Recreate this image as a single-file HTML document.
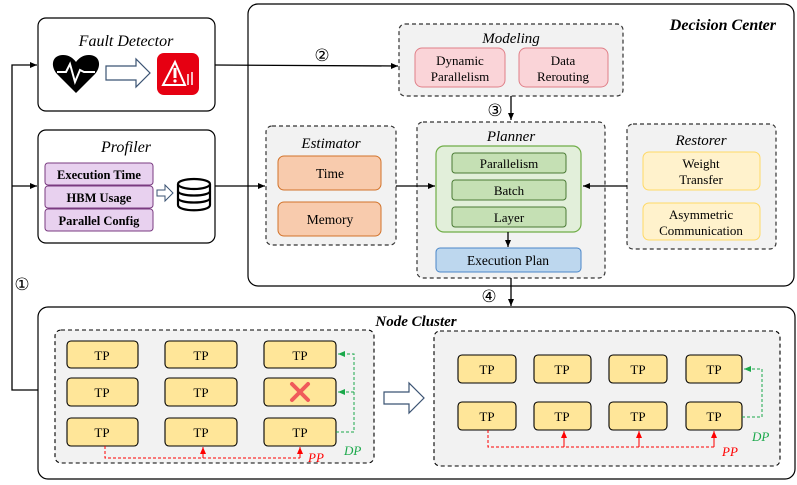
<!DOCTYPE html>
<html><head><meta charset="utf-8"><style>
html,body{margin:0;padding:0;background:#fff;}
svg{display:block;}
svg text{font-family:"Liberation Serif","Noto Serif CJK SC","DejaVu Serif",serif;}
svg text.n{font-family:"DejaVu Sans",sans-serif;font-weight:normal;}
</style></head><body>
<svg width="797" height="485" viewBox="0 0 797 485" xmlns="http://www.w3.org/2000/svg">
<defs>
<marker id="ar" markerWidth="8" markerHeight="8" refX="7" refY="4" orient="auto" markerUnits="userSpaceOnUse"><path d="M0,1 L7,4 L0,7 z" fill="#000"/></marker>
<marker id="arr" markerWidth="8" markerHeight="8" refX="7" refY="4" orient="auto" markerUnits="userSpaceOnUse"><path d="M0,1 L7,4 L0,7 z" fill="#f00"/></marker>
<marker id="arg" markerWidth="8" markerHeight="8" refX="7" refY="4" orient="auto" markerUnits="userSpaceOnUse"><path d="M0,1 L7,4 L0,7 z" fill="#1aa84a"/></marker>
</defs>
<rect width="797" height="485" fill="#fff"/>

<rect x="248" y="4" width="546" height="282" rx="10" fill="#fff" stroke="#000" stroke-width="1.2"/>
<text x="776" y="30" font-size="16" font-weight="bold" font-style="italic" text-anchor="end">Decision Center</text>

<polyline points="38,390 12,390 12,65 37,65" fill="none" stroke="#000" stroke-width="1.3" marker-end="url(#ar)"/>
<line x1="12" y1="186" x2="37" y2="186" stroke="#000" stroke-width="1.3" marker-end="url(#ar)"/>
<text class="n" x="22" y="290" font-size="17" text-anchor="middle">①</text>

<rect x="38" y="18" width="177" height="93" rx="8" fill="#fff" stroke="#000" stroke-width="1.2"/>
<text x="126" y="46" font-size="16" font-style="italic" text-anchor="middle">Fault Detector</text>
<path d="M76,93 L57,74 C50,66 52,55 63,55 C69,55 73,58 76,62 C79,58 83,55 89,55 C100,55 102,66 95,74 Z" fill="#000"/>
<polyline points="57,72 66,72 70,64 75,82 80,70 84,72 95,72" fill="none" stroke="#fff" stroke-width="2"/>
<path d="M106,66 L136,66 L136,59 L150,73 L136,87 L136,80 L106,80 Z" fill="#fff" stroke="#3b5373" stroke-width="1.2"/>
<rect x="157" y="53" width="42" height="42" rx="7" fill="#e60012"/>
<path d="M175,62 L163,85 L185,85 Z" fill="none" stroke="#fff" stroke-width="2"/>
<rect x="173.5" y="68" width="3" height="10" fill="#fff"/><circle cx="175" cy="81" r="1.6" fill="#fff"/>
<line x1="188" y1="74" x2="188" y2="85" stroke="#fff" stroke-width="1.5"/><line x1="192" y1="72" x2="192" y2="85" stroke="#fff" stroke-width="1.5"/>

<rect x="38" y="130" width="177" height="113" rx="8" fill="#fff" stroke="#000" stroke-width="1.2"/>
<text x="126" y="152" font-size="16" font-style="italic" text-anchor="middle">Profiler</text>
<rect x="45" y="163" width="108" height="22" rx="3" fill="#e8d1ef" stroke="#7a3b80" stroke-width="1"/>
<rect x="45" y="186" width="108" height="22" rx="3" fill="#e8d1ef" stroke="#7a3b80" stroke-width="1"/>
<rect x="45" y="209" width="108" height="22" rx="3" fill="#e8d1ef" stroke="#7a3b80" stroke-width="1"/>
<text x="99" y="179" font-size="12.5" font-weight="bold" text-anchor="middle">Execution Time</text>
<text x="99" y="202" font-size="12.5" font-weight="bold" text-anchor="middle">HBM Usage</text>
<text x="99" y="225" font-size="12.5" font-weight="bold" text-anchor="middle">Parallel Config</text>
<path d="M157,190 L165,190 L165,185 L173,193 L165,201 L165,196 L157,196 Z" fill="#fff" stroke="#3b5373" stroke-width="1"/>
<g fill="#fff" stroke="#000" stroke-width="2.2">
<path d="M178,184 L178,205 C178,212 210,212 210,205 L210,184"/>
<ellipse cx="194" cy="184" rx="16" ry="5"/>
<path d="M178,191 C178,197 210,197 210,191"/>
<path d="M178,198 C178,204 210,204 210,198"/>
</g>

<rect x="399" y="24" width="224" height="72" rx="6" fill="#f2f2f2" stroke="#333" stroke-width="1.2" stroke-dasharray="4,3"/>
<text x="511" y="43" font-size="15" font-style="italic" text-anchor="middle">Modeling</text>
<rect x="415" y="48" width="90" height="39" rx="7" fill="#fad4d8" stroke="#e07f88" stroke-width="1"/>
<text x="460" y="65" font-size="13" text-anchor="middle">Dynamic</text><text x="460" y="81" font-size="13" text-anchor="middle">Parallelism</text>
<rect x="519" y="48" width="89" height="39" rx="7" fill="#fad4d8" stroke="#e07f88" stroke-width="1"/>
<text x="563" y="65" font-size="13" text-anchor="middle">Data</text><text x="563" y="81" font-size="13" text-anchor="middle">Rerouting</text>

<line x1="215" y1="65" x2="398" y2="66" stroke="#000" stroke-width="1.3" marker-end="url(#ar)"/>
<text class="n" x="322" y="61" font-size="17" text-anchor="middle">②</text>
<line x1="215" y1="186" x2="265" y2="186" stroke="#000" stroke-width="1.3" marker-end="url(#ar)"/>
<line x1="511" y1="96" x2="511" y2="120" stroke="#000" stroke-width="1.3" marker-end="url(#ar)"/>
<text class="n" x="495" y="116" font-size="17" text-anchor="middle">③</text>

<rect x="266" y="126" width="130" height="119" rx="6" fill="#f2f2f2" stroke="#333" stroke-width="1.2" stroke-dasharray="4,3"/>
<text x="331" y="148" font-size="15" font-style="italic" text-anchor="middle">Estimator</text>
<rect x="278" y="156" width="103" height="34" rx="6" fill="#f8cbad" stroke="#d2732a" stroke-width="1"/>
<text x="330" y="178" font-size="13.5" text-anchor="middle">Time</text>
<rect x="278" y="202" width="103" height="34" rx="6" fill="#f8cbad" stroke="#d2732a" stroke-width="1"/>
<text x="330" y="224" font-size="13.5" text-anchor="middle">Memory</text>

<rect x="417" y="122" width="188" height="156" rx="6" fill="#f2f2f2" stroke="#333" stroke-width="1.2" stroke-dasharray="4,3"/>
<line x1="396" y1="186" x2="435" y2="186" stroke="#000" stroke-width="1.3" marker-end="url(#ar)"/>
<text x="511" y="141" font-size="15" font-style="italic" text-anchor="middle">Planner</text>
<rect x="436" y="146" width="145" height="86" rx="8" fill="#e2efda" stroke="#70ad47" stroke-width="1.2"/>
<rect x="452" y="153" width="114" height="20" rx="3" fill="#c5e0b4" stroke="#4a7a35" stroke-width="1"/>
<text x="509" y="168" font-size="13" text-anchor="middle">Parallelism</text>
<rect x="452" y="180" width="114" height="20" rx="3" fill="#c5e0b4" stroke="#4a7a35" stroke-width="1"/>
<text x="509" y="195" font-size="13" text-anchor="middle">Batch</text>
<rect x="452" y="207" width="114" height="20" rx="3" fill="#c5e0b4" stroke="#4a7a35" stroke-width="1"/>
<text x="509" y="222" font-size="13" text-anchor="middle">Layer</text>
<line x1="508" y1="232" x2="508" y2="247" stroke="#000" stroke-width="1.3" marker-end="url(#ar)"/>
<rect x="436" y="248" width="145" height="24" rx="4" fill="#bdd7ee" stroke="#4a86c8" stroke-width="1"/>
<text x="508" y="265" font-size="13.5" text-anchor="middle">Execution Plan</text>

<rect x="627" y="124" width="149" height="125" rx="6" fill="#f2f2f2" stroke="#333" stroke-width="1.2" stroke-dasharray="4,3"/>
<text x="701" y="145" font-size="15" font-style="italic" text-anchor="middle">Restorer</text>
<rect x="643" y="152" width="117" height="38" rx="6" fill="#fff2cc" stroke="#ffd966" stroke-width="1"/>
<text x="701" y="168" font-size="13" text-anchor="middle">Weight</text><text x="701" y="184" font-size="13" text-anchor="middle">Transfer</text>
<rect x="643" y="203" width="117" height="37" rx="6" fill="#fff2cc" stroke="#ffd966" stroke-width="1"/>
<text x="701" y="219" font-size="13" text-anchor="middle">Asymmetric</text><text x="701" y="235" font-size="13" text-anchor="middle">Communication</text>
<line x1="627" y1="186" x2="583" y2="186" stroke="#000" stroke-width="1.3" marker-end="url(#ar)"/>

<rect x="38" y="307" width="757" height="172" rx="10" fill="#fff" stroke="#000" stroke-width="1.2"/>
<line x1="511" y1="278" x2="511" y2="306" stroke="#000" stroke-width="1.3" marker-end="url(#ar)"/>
<text class="n" x="489" y="302" font-size="17" text-anchor="middle">④</text>
<text x="416" y="326" font-size="15" font-weight="bold" font-style="italic" text-anchor="middle">Node Cluster</text>

<rect x="55" y="330" width="319" height="133" rx="6" fill="#f2f2f2" stroke="#000" stroke-width="1.1" stroke-dasharray="4,3"/>
<g fill="#ffe699" stroke="#000" stroke-width="1.1">
<rect x="67" y="341" width="71" height="27" rx="4"/><rect x="165" y="341" width="72" height="27" rx="4"/><rect x="264" y="341" width="72" height="27" rx="4"/>
<rect x="67" y="378" width="71" height="28" rx="4"/><rect x="165" y="378" width="72" height="28" rx="4"/><rect x="264" y="378" width="72" height="28" rx="4"/>
<rect x="67" y="418" width="71" height="28" rx="4"/><rect x="165" y="418" width="72" height="28" rx="4"/><rect x="264" y="418" width="72" height="28" rx="4"/>
</g>
<g font-size="13" text-anchor="middle">
<text x="102" y="360">TP</text><text x="201" y="360">TP</text><text x="300" y="360">TP</text>
<text x="102" y="397">TP</text><text x="201" y="397">TP</text>
<text x="102" y="437">TP</text><text x="201" y="437">TP</text><text x="300" y="437">TP</text>
</g>
<g stroke="#f05a5a" stroke-width="4" stroke-linecap="round"><line x1="292" y1="384" x2="308" y2="400"/><line x1="308" y1="384" x2="292" y2="400"/></g>
<polyline points="105,446 105,458 300,458" fill="none" stroke="#f00" stroke-width="1" stroke-dasharray="3,2"/>
<line x1="203" y1="458" x2="203" y2="447" stroke="#f00" stroke-width="1" marker-end="url(#arr)"/>
<line x1="300" y1="458" x2="300" y2="447" stroke="#f00" stroke-width="1" marker-end="url(#arr)"/>
<text x="308" y="462" font-size="13" font-style="italic" fill="#f00">PP</text>
<polyline points="336,432 354,432 354,354 338,354" fill="none" stroke="#1aa84a" stroke-width="1" stroke-dasharray="3,2" marker-end="url(#arg)"/>
<line x1="354" y1="392" x2="338" y2="392" stroke="#1aa84a" stroke-width="1" stroke-dasharray="3,2" marker-end="url(#arg)"/>
<text x="344" y="455" font-size="13" font-style="italic" fill="#1aa84a">DP</text>

<path d="M384,392 L409,392 L409,383 L424,398 L409,413 L409,404 L384,404 Z" fill="#fff" stroke="#3b5373" stroke-width="1.2"/>

<rect x="434" y="331" width="346" height="135" rx="6" fill="#f2f2f2" stroke="#000" stroke-width="1.1" stroke-dasharray="4,3"/>
<g fill="#ffe699" stroke="#000" stroke-width="1.1">
<rect x="458" y="355" width="58" height="28" rx="4"/><rect x="534" y="355" width="57" height="28" rx="4"/><rect x="609" y="355" width="58" height="28" rx="4"/><rect x="686" y="355" width="56" height="28" rx="4"/>
<rect x="458" y="402" width="58" height="28" rx="4"/><rect x="534" y="402" width="57" height="28" rx="4"/><rect x="609" y="402" width="58" height="28" rx="4"/><rect x="686" y="402" width="56" height="28" rx="4"/>
</g>
<g font-size="13" text-anchor="middle">
<text x="487" y="374">TP</text><text x="562" y="374">TP</text><text x="638" y="374">TP</text><text x="714" y="374">TP</text>
<text x="487" y="421">TP</text><text x="562" y="421">TP</text><text x="638" y="421">TP</text><text x="714" y="421">TP</text>
</g>
<polyline points="488,430 488,447 714,447" fill="none" stroke="#f00" stroke-width="1" stroke-dasharray="3,2"/>
<line x1="564" y1="447" x2="564" y2="431" stroke="#f00" stroke-width="1" marker-end="url(#arr)"/>
<line x1="639" y1="447" x2="639" y2="431" stroke="#f00" stroke-width="1" marker-end="url(#arr)"/>
<line x1="714" y1="447" x2="714" y2="431" stroke="#f00" stroke-width="1" marker-end="url(#arr)"/>
<text x="722" y="456" font-size="13" font-style="italic" fill="#f00">PP</text>
<polyline points="742,417 762,417 762,369 744,369" fill="none" stroke="#1aa84a" stroke-width="1" stroke-dasharray="3,2" marker-end="url(#arg)"/>
<text x="752" y="441" font-size="13" font-style="italic" fill="#1aa84a">DP</text>
</svg>
</body></html>
